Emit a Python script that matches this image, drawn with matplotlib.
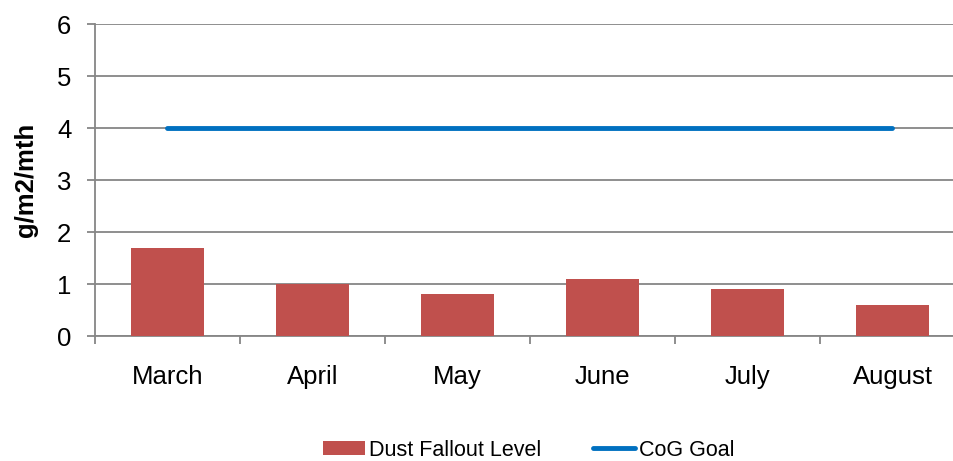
import numpy as np
import matplotlib.pyplot as plt

plt.rcParams['font.family'] = ['Liberation Sans', 'DejaVu Sans']

months = ['March', 'April', 'May', 'June', 'July', 'August']
dust_fallout = [1.7, 1.0, 0.8, 1.1, 0.9, 0.6]
cog_goal = [4, 4, 4, 4, 4, 4]

fig = plt.figure(figsize=(9.54, 4.61), dpi=100)
ax = fig.add_axes([95 / 954, 125 / 461, 870 / 954, 312 / 461])

x = np.arange(len(months))
bars = ax.bar(x, dust_fallout, width=0.5, color='#C0504D', zorder=3,
              label='Dust Fallout Level')
line, = ax.plot(x, cog_goal, color='#0070C0', linewidth=3.5, solid_capstyle='round',
                zorder=4, label='CoG Goal')

ax.set_xlim(-0.5, len(months) - 0.5)
ax.set_ylim(0, 6)
ax.set_yticks(range(0, 7))

# grid and axes in grey
grey = '#868686'
ax.yaxis.grid(True, color=grey, linewidth=1.3, zorder=0)
for side in ['top', 'right']:
    ax.spines[side].set_visible(False)
for side in ['left', 'bottom']:
    ax.spines[side].set_color(grey)
    ax.spines[side].set_linewidth(1.3)

ax.set_xticks(x)
ax.set_xticklabels(months)
ax.set_xticks(np.arange(-0.5, len(months)), minor=True)
ax.tick_params(axis='x', which='major', length=0, pad=21, labelsize=18.5)
ax.tick_params(axis='x', which='minor', length=6, width=1.3, color=grey)
ax.tick_params(axis='y', length=6, width=1.3, color=grey, pad=11, labelsize=18.5)

ax.set_ylabel('g/m2/mth', fontsize=18.5, fontweight='bold', labelpad=14)

fig.legend(handles=[bars, line], loc='center', bbox_to_anchor=(529 / 954, 1 - 450 / 461),
           ncol=2, frameon=False, fontsize=15.5, handlelength=1.95, handleheight=0.67,
           handletextpad=0.2, columnspacing=2.4)

fig.savefig('out.png', dpi=100)
